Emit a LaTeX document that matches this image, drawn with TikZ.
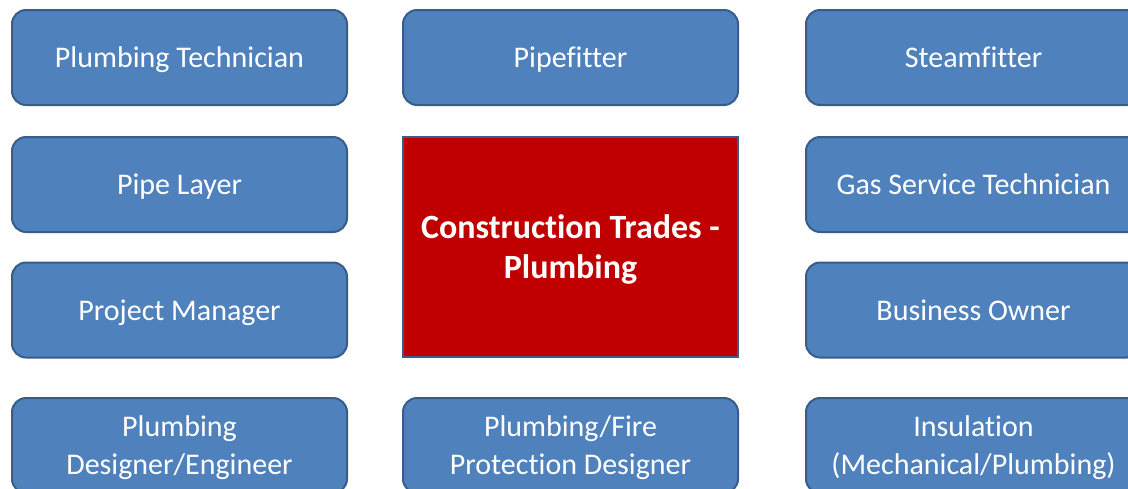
\documentclass[tikz,border=0pt]{standalone}
\usepackage{fontspec}
\setmainfont[Ligatures=NoCommon]{Carlito}
\definecolor{trade_blue}{RGB}{79, 129, 189}
\definecolor{trade_edge}{RGB}{56, 93, 138}
\definecolor{trade_red}{RGB}{192, 0, 0}
\usetikzlibrary{positioning}

\begin{document}
\begin{tikzpicture}[x=1pt, y=-1pt,
    job/.style={draw=trade_edge, line width=2pt, fill=trade_blue,
      rounded corners=14pt, minimum width=335pt, minimum height=95pt,
      text=white, align=center, text depth=-3pt,
      font=\fontsize{30}{38}\selectfont},
    hub/.style={draw=trade_edge, line width=2.5pt, fill=trade_red,
      minimum width=335pt, minimum height=220pt,
      text=white, align=center, text depth=-2pt,
      font=\fontsize{34}{40}\selectfont\bfseries}]
        \useasboundingbox (0,0) rectangle (1128,488);
        % Colonne de gauche
        \node[job] (tech)     at (179.5,57.5)  {Plumbing Technician};
        \node[job] (layer)    at (179.5,184.5) {Pipe Layer};
        \node[job] (manager)  at (179.5,310)   {Project Manager};
        \node[job] (designer) at (179.5,445.5)
          {Plumbing\\Designer/Engineer};
        % Colonne du milieu
        \node[job] (fitter)   at (570.5,57.5)  {Pipefitter};
        \node[hub] (trades)   at (570.5,247)
          {Construction Trades -\\Plumbing};
        \node[job] (fire)     at (570.5,445.5)
          {Plumbing/Fire\\Protection Designer};
        % Colonne de droite
        \node[job] (steam)    at (973.5,57.5)  {Steamfitter};
        \node[job] (gas)      at (973.5,184.5) {Gas Service Technician};
        \node[job] (owner)    at (973.5,310)   {Business Owner};
        \node[job] (insul)    at (973.5,445.5)
          {Insulation\\(Mechanical/Plumbing)};
      \end{tikzpicture}
\end{document}
